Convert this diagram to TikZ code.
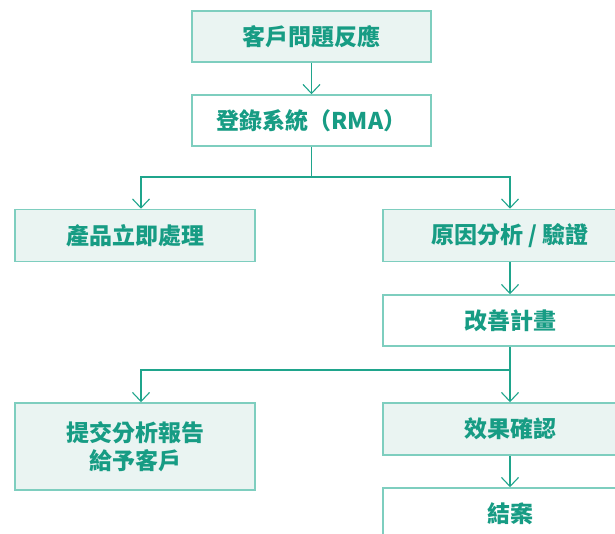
\documentclass[tikz,border=0pt]{standalone}
\usepackage{fontspec}
\usepackage{xcolor}
\usepackage{tikz}
\usetikzlibrary{arrows.meta}
\newfontfamily\cjk{Noto Sans CJK TC}
\definecolor{tealtext}{HTML}{179C84}
\definecolor{tealline}{HTML}{1FA58C}
\definecolor{tealedge}{HTML}{7ECEBF}
\definecolor{tealfill}{HTML}{EAF4F2}

\begin{document}
\begin{tikzpicture}[x=1pt, y=-1pt,
  stepbox/.style={rectangle, draw=tealedge, line width=1.5pt, fill=white, text=tealtext,
    font=\cjk\bfseries\fontsize{23}{28}\selectfont, minimum height=51pt, inner sep=0pt, align=center},
  shaded/.style={stepbox, fill=tealfill},
  link/.style={draw=tealline, line width=1.1pt},
  arr/.style={link, -{Straight Barb[length=9pt, width=17pt, line width=1.1pt]}}]
\clip (0,0) rectangle (615,534);
% top chain
\node[shaded, minimum width=239pt] (ask) at (311.5, 36.5) {客戶問題反應};
\node[stepbox, minimum width=239pt] (rma) at (311.5, 120.5) {登錄系統（RMA）};
% second row
\node[shaded, minimum width=240pt, minimum height=52pt] (prod) at (135, 235.5) {產品立即處理};
\node[shaded, minimum width=254pt, minimum height=52pt] (cause) at (510, 235.5) {原因分析 / 驗證};
\node[stepbox, minimum width=254pt] (plan) at (510, 320.5) {改善計畫};
% third row
\node[shaded, minimum width=240pt, minimum height=87pt] (report) at (135, 446.5) {提交分析報告\\給予客戶};
\node[shaded, minimum width=254pt, minimum height=52pt] (check) at (510, 429) {效果確認};
\node[stepbox, minimum width=254pt] (close) at (510, 513.5) {結案};
% connectors
\coordinate (lcol) at (141, 0);
\coordinate (fork1) at (311.5, 177);
\coordinate (fork2) at (510, 370);
\draw[arr] (ask) -- (rma);
\draw[link] (rma.south) -- (fork1);
\draw[arr] (fork1) -| (lcol |- prod.north);
\draw[arr] (fork1) -| (cause.north);
\draw[arr] (cause) -- (plan);
\draw[arr] (plan) -- (check);
\draw[arr] (fork2) -| (lcol |- report.north);
\draw[arr] (check) -- (close);
\end{tikzpicture}
\end{document}
